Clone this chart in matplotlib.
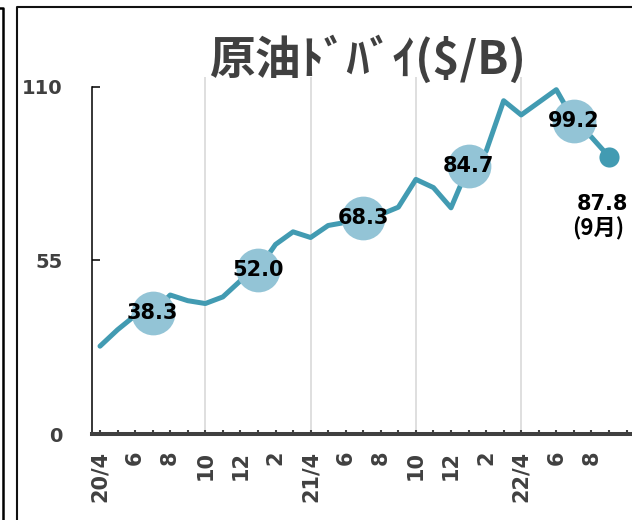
import matplotlib
matplotlib.use('Agg')
import matplotlib.pyplot as plt
from matplotlib.lines import Line2D

# monthly values, 20/4 .. 22/9
months = list(range(30))
prices = [27.8, 33.0, 37.5, 38.3, 44.0, 42.2, 41.3, 43.4, 48.5, 52.0,
          60.0, 64.0, 62.2, 66.0, 67.0, 68.3, 69.5, 71.8, 80.6, 78.0,
          71.6, 84.7, 89.5, 105.5, 101.0, 105.0, 109.0, 99.2, 94.0, 87.8]
label_idx = [3, 9, 15, 21, 27]
tick_labels = ['20/4', '6', '8', '10', '12', '2', '21/4', '6', '8', '10',
               '12', '2', '22/4', '6', '8']
grid_idx = [6, 12, 18, 24]
y_ticks = [0, 55, 110]
title = '原油ﾄﾞﾊﾞｲ($/B)'

line_col = '#429BB2'
circ_col = '#93C4D6'
dark = '#404040'

W, H = 632, 520
fig = plt.figure(figsize=(W / 100, H / 100), dpi=100)

# axes placed in pixel terms, running past the right edge like the original
left_px, right_px, top_px, base_px = 92, 650, 77, 434
ax = fig.add_axes([left_px / W, (H - base_px) / H,
                   (right_px - left_px) / W, (base_px - top_px) / H])
step = 17.55
ax.set_xlim((left_px - 100) / step, (right_px - 100) / step)
ax.set_ylim(0, (base_px - top_px) / 3.159)

for g in grid_idx:
    ax.axvline(g, color='#D9D9D9', lw=1.2, zorder=0)

ax.plot(months, prices, color=line_col, lw=3.6, solid_joinstyle='round',
        solid_capstyle='round', zorder=2)
ax.scatter([months[i] for i in label_idx], [prices[i] for i in label_idx],
           s=31.5 ** 2, color=circ_col, zorder=3, linewidths=0)
ax.scatter([months[-1]], [prices[-1]], s=14.5 ** 2, color=line_col, zorder=3,
           linewidths=0)

for i in label_idx:
    ax.text(months[i], prices[i], '%.1f' % prices[i], ha='center', va='center',
            fontsize=15, fontweight='bold', color='black', zorder=4,
            family='DejaVu Sans')

ax.annotate('%.1f' % prices[-1], xy=(months[-1], prices[-1]),
            xytext=(-5, -34), textcoords='offset points', ha='center',
            va='center', fontsize=15, fontweight='bold', color='black',
            family='DejaVu Sans')
ax.annotate('(9月)', xy=(months[-1], prices[-1]),
            xytext=(-7.5, -52), textcoords='offset points', ha='center',
            va='center', fontsize=16, fontweight='bold', color='black',
            family=['Noto Sans CJK JP', 'DejaVu Sans'])

for s in ['top', 'right']:
    ax.spines[s].set_visible(False)
ax.spines['left'].set_bounds(0, 110)
ax.spines['left'].set_color('black')
ax.spines['left'].set_linewidth(1.1)
ax.spines['bottom'].set_color(dark)
ax.spines['bottom'].set_linewidth(2.9)

ax.set_xticks(range(0, 32))
ax.set_xticklabels([tick_labels[i // 2] if i % 2 == 0 and i // 2 < len(tick_labels) else ''
                    for i in range(0, 32)],
                   rotation=90, fontsize=15, fontweight='bold', color=dark)
ax.tick_params(axis='x', direction='in', length=3, width=1.5, color=dark, pad=12)

ax.set_yticks(y_ticks)
ax.set_yticklabels([str(v) for v in y_ticks], fontsize=14, fontweight='bold',
                   color=dark)
ax.tick_params(axis='y', direction='in', length=6, width=1.1, color='black', pad=21)

fig.text(367 / W, (H - 60) / H, title, ha='center', va='center', fontsize=33,
         fontweight='bold', color=dark, family=['Noto Sans CJK JP', 'DejaVu Sans'])

# frame lines
fig.add_artist(Line2D([17 / W, 17 / W, 1], [0, (H - 6.5) / H, (H - 6.5) / H],
                      color='#111111', lw=1.5))
fig.add_artist(Line2D([0, 3 / W, 3 / W], [(H - 8) / H, (H - 8) / H, 0],
                      color='black', lw=1.8))

fig.savefig('out.png', dpi=100)
